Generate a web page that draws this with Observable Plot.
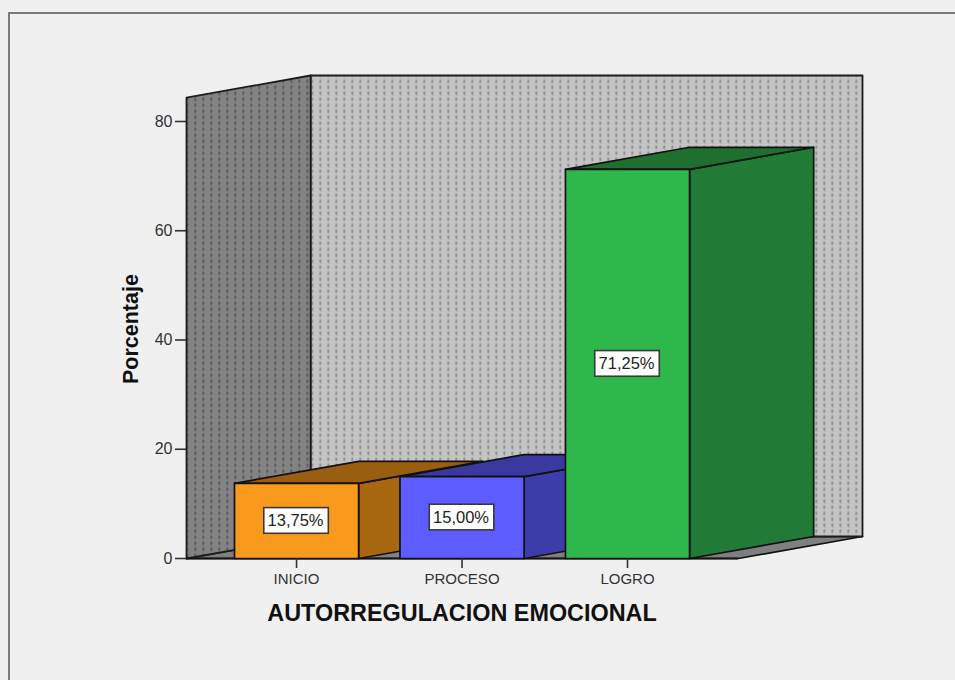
<!DOCTYPE html>
<html>
<head>
<meta charset="utf-8">
<script src="https://cdn.jsdelivr.net/npm/d3@7"></script>
<script src="https://cdn.jsdelivr.net/npm/@observablehq/plot@0.6"></script>
<style>
  html, body { margin: 0; padding: 0; background: #f0f0f0; overflow: hidden; }
  #frame { position: absolute; left: 8px; top: 12px; width: 947px; height: 668px;
           border-top: 2px solid #7a7a7a; border-left: 2px solid #7a7a7a; box-sizing: border-box; }
  #chart { position: absolute; left: 0; top: 0; }
  #chart svg { background: transparent; }
</style>
</head>
<body>
<div id="frame"></div>
<div id="chart"></div>
<script>
const categories = ["INICIO", "PROCESO", "LOGRO"];
const values = [13.75, 15.00, 71.25];
const valueLabels = ["13,75%", "15,00%", "71,25%"];
const frontColors = ["#fa9a1c", "#5c5cff", "#2eb84b"];
const sideColors = ["#a66710", "#3d3daa", "#217b36"];
const topColors = ["#9a5e10", "#39399f", "#1e6f30"];
const yTicks = [0, 20, 40, 60, 80];

// Chart space: x counts categories, y is the percentage.
const halfBar = 0.375, depthX = 0.75, depthY = 4.03;
const floorStart = -0.665, floorEnd = 2.67, wallTop = 84.39;
const labelHalfW = 0.195, labelHalfH = 2.35;

const face = (points, fill, stroke = "#111111", strokeWidth = 1.7) =>
  Plot.line(points.map(([x, y]) => ({x, y})), {x: "x", y: "y", fill, stroke, strokeWidth, curve: "linear-closed"});

const defs = () => {
  const svg = d3.create("svg:defs");
  const pat = (id, size, shift, bg, dot, dotX) => {
    const p = svg.append("pattern").attr("id", id).attr("patternUnits", "userSpaceOnUse")
      .attr("width", size[0]).attr("height", size[1]).attr("patternTransform", `translate(${shift},0)`);
    p.append("rect").attr("width", size[0]).attr("height", size[1]).attr("fill", bg);
    p.append("rect").attr("x", dotX).attr("y", 1).attr("width", 1.5).attr("height", 3.5).attr("fill", dot);
  };
  pat("dotsBack", [8, 6], 1, "#c4c4c4", "#808080", 6);
  pat("dotsSide", [8, 6], 0, "#838383", "#4f4f4f", 2);
  return svg.node();
};

const wallMarks = [
  face([[floorStart, 0], [floorStart + depthX, depthY], [floorEnd + depthX, depthY], [floorEnd, 0]], "#7f7f7f"),
  face([[floorStart + depthX, depthY], [floorEnd + depthX, depthY], [floorEnd + depthX, wallTop + depthY], [floorStart + depthX, wallTop + depthY]], "url(#dotsBack)", "#1c1c1c", 1.8),
  face([[floorStart, 0], [floorStart + depthX, depthY], [floorStart + depthX, wallTop + depthY], [floorStart, wallTop]], "url(#dotsSide)", "#1c1c1c", 1.8)
];

const barMarks = values.flatMap((v, i) => {
  const a = i - halfBar, b = i + halfBar;
  return [
    face([[b, 0], [b + depthX, depthY], [b + depthX, v + depthY], [b, v]], sideColors[i]),
    face([[a, v], [b, v], [b + depthX, v + depthY], [a + depthX, v + depthY]], topColors[i]),
    face([[a, 0], [b, 0], [b, v], [a, v]], frontColors[i])
  ];
});

const labelData = values.map((v, i) => ({i, y: v / 2, text: valueLabels[i]}));

const chart = Plot.plot({
  width: 955,
  height: 680,
  marginLeft: 186,
  marginRight: 93,
  marginTop: 75,
  marginBottom: 122,
  style: {fontFamily: "'Liberation Sans', Arial, sans-serif", background: "transparent", color: "#333"},
  x: {type: "linear", domain: [floorStart, floorEnd + depthX]},
  y: {type: "linear", domain: [0, wallTop + depthY]},
  marks: [
    defs,
    ...wallMarks,
    Plot.ruleY([0], {x1: floorStart, x2: floorEnd, stroke: "#151515", strokeWidth: 2.2}),
    ...barMarks,
    Plot.rect(labelData, {
      x1: d => d.i - labelHalfW, x2: d => d.i + labelHalfW,
      y1: d => d.y - labelHalfH, y2: d => d.y + labelHalfH,
      fill: "#ffffff", stroke: "#3a3a3a", strokeWidth: 1.6
    }),
    Plot.text(labelData, {x: "i", y: "y", text: "text", fontSize: 16.5, fill: "#222", dx: -1}),
    Plot.axisY({ticks: yTicks, tickSize: 11, tickPadding: 3, label: null, fontSize: 16, stroke: "#333", fill: "#333", strokeWidth: 1.6}),
    Plot.axisX({ticks: [0, 1, 2], tickFormat: i => categories[i], tickSize: 10, tickPadding: 5, label: null, fontSize: 15, stroke: "#333", fill: "#333", strokeWidth: 1.6}),
    Plot.text([{x: 1, y: -10, t: "AUTORREGULACION EMOCIONAL"}], {x: "x", y: "y", text: "t", fontSize: 23.4, fontWeight: "bold", fill: "#111"}),
    Plot.text([{x: -1, y: 42, t: "Porcentaje"}], {x: "x", y: "y", text: "t", fontSize: 21.5, fontWeight: "bold", fill: "#111", rotate: -90})
  ]
});
document.getElementById("chart").append(chart);
</script>
</body>
</html>
